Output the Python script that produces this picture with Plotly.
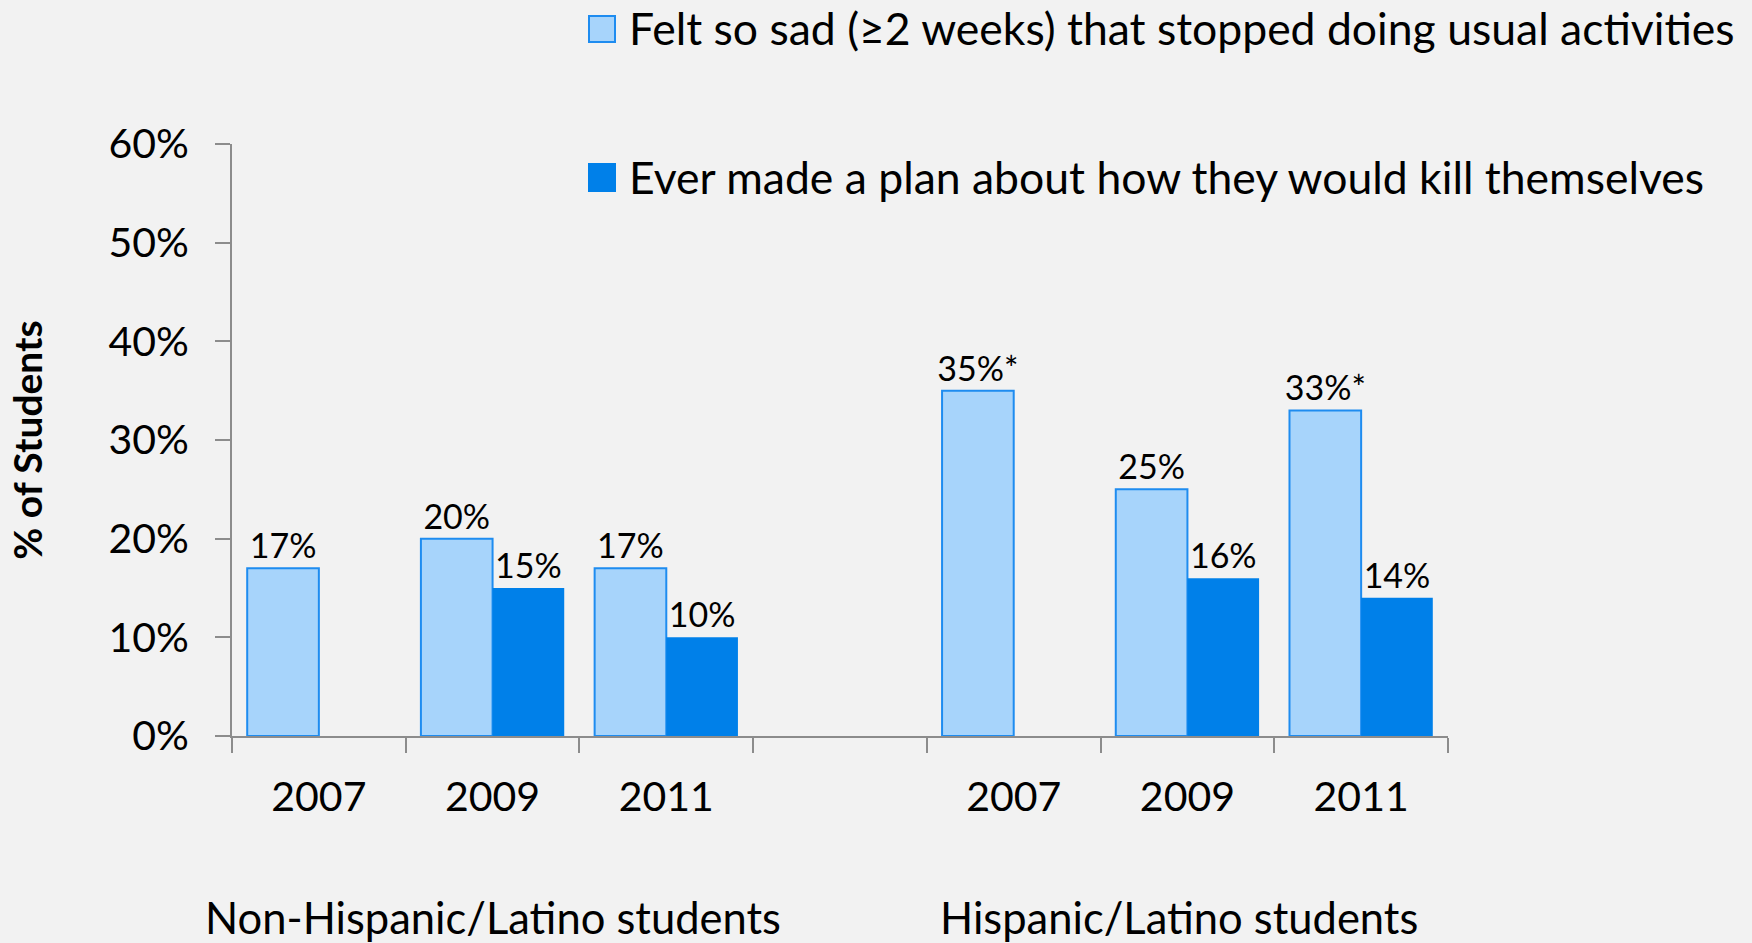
import plotly.graph_objects as go

# ---- data -------------------------------------------------------------
groups = ["Non-Hispanic/Latino students", "Hispanic/Latino students"]
years = ["2007", "2009", "2011"]

# Felt so sad (>=2 weeks) that stopped doing usual activities, % of students
sad_pct = [17, 20, 17, 35, 25, 33]
sad_flag = ["", "", "", "*", "", "*"]   # * = significant difference vs non-Hispanic
# Ever made a plan about how they would kill themselves, % of students
plan_pct = [None, 15, 10, None, 16, 14]

y_ticks = [0, 10, 20, 30, 40, 50, 60]

sad_name = "Felt so sad (\u22652 weeks) that stopped doing usual activities"
plan_name = "Ever made a plan about how they would kill themselves"

# ---- styling ----------------------------------------------------------
BG = "#F2F2F2"
AXIS = "#8C8C8C"
LIGHT = "#A7D4FB"
LIGHT_EDGE = "#1E8CF0"
DARK = "#0080E9"
FONT = "Lato, 'Open Sans', sans-serif"

# category keys: three years per group with an empty slot between groups
keys = [f"{g} {y}" for g in groups for y in years]
spacer = " "
cat_order = keys[:3] + [spacer] + keys[3:]
tick_text = years + [""] + years

W, H = 1752, 943
ML, MR, MT, MB = 232, 304, 144, 207
PW, PH = W - ML - MR, H - MT - MB


def px_x(x):
    return (x - ML) / PW


def px_y(y):
    return (H - MB - y) / PH


fig = go.Figure()
fig.add_trace(go.Bar(
    x=keys, y=sad_pct, name=sad_name,
    marker=dict(color=LIGHT, line=dict(color=LIGHT_EDGE, width=2)),
    text=[f"{v}%{f}" for v, f in zip(sad_pct, sad_flag)],
    textposition="outside", cliponaxis=False, constraintext="none",
    textfont=dict(size=34, color="#000000", family=FONT),
    showlegend=False,
))
fig.add_trace(go.Bar(
    x=keys, y=plan_pct, name=plan_name,
    marker=dict(color=DARK, line=dict(color=DARK, width=0)),
    text=[f"{v}%" if v is not None else "" for v in plan_pct],
    textposition="outside", cliponaxis=False, constraintext="none",
    textfont=dict(size=34, color="#000000", family=FONT),
    showlegend=False,
))

# legend drawn as swatches + labels in the top-right corner
legend_rows = [
    (sad_name, LIGHT, LIGHT_EDGE, 16, 42, 28),
    (plan_name, DARK, DARK, 164, 191, 177),
]
for label, fill, edge, top, bottom, mid in legend_rows:
    fig.add_shape(type="rect", xref="paper", yref="paper",
                  x0=px_x(589), x1=px_x(615), y0=px_y(bottom), y1=px_y(top),
                  fillcolor=fill, line=dict(color=edge, width=2))
    fig.add_annotation(text=label, xref="paper", yref="paper",
                       x=px_x(627), y=px_y(mid), xanchor="left", yanchor="middle",
                       showarrow=False, font=dict(size=44.5, color="#000000", family=FONT))

# group captions under the year labels
for i, g in enumerate(groups):
    fig.add_annotation(text=g, xref="x", yref="paper", x=keys[3 * i + 1], y=px_y(917),
                       xanchor="center", yanchor="middle", showarrow=False,
                       xshift=-8 * i,
                       font=dict(size=43.5, color="#000000", family=FONT))

fig.update_layout(
    width=W, height=H,
    margin=dict(l=ML, r=MR, t=MT, b=MB, autoexpand=False),
    paper_bgcolor=BG, plot_bgcolor=BG,
    barmode="group", bargap=0.175, bargroupgap=0,
    font=dict(family=FONT, color="#000000"),
    showlegend=False,
    xaxis=dict(
        type="category", categoryorder="array", categoryarray=cat_order,
        range=[-0.5, len(cat_order) - 0.5],
        tickmode="array", tickvals=cat_order, ticktext=tick_text,
        tickson="boundaries", ticks="outside", ticklen=15, tickwidth=2, tickcolor=AXIS,
        showline=True, linecolor=AXIS, linewidth=2, showgrid=False, zeroline=False,
        tickfont=dict(size=41, family=FONT, color="#000000"),
        ticklabelstandoff=24,
    ),
    yaxis=dict(
        range=[0, 60], tickmode="array", tickvals=y_ticks,
        ticktext=[f"{v}%" for v in y_ticks],
        ticks="outside", ticklen=15, tickwidth=2, tickcolor=AXIS,
        showline=True, linecolor=AXIS, linewidth=2, showgrid=False, zeroline=False,
        tickfont=dict(size=41, family=FONT, color="#000000"),
        ticklabelstandoff=18,
        title=dict(text="<b>% of Students</b>", standoff=54,
                   font=dict(size=39, family=FONT, color="#000000")),
    ),
)

fig.write_html("out.html")
